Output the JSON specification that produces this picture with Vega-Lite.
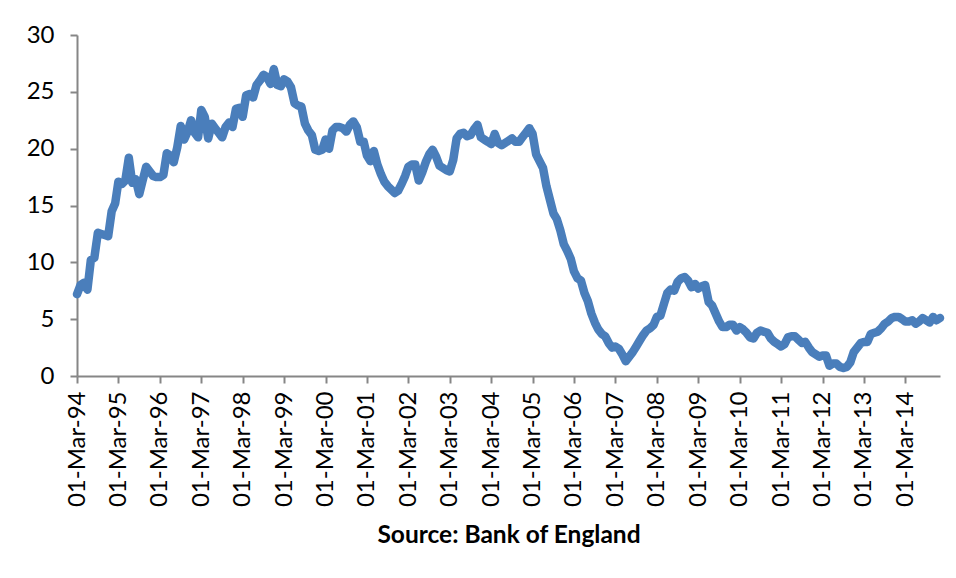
{
  "$schema": "https://vega.github.io/schema/vega-lite/v6.json",
  "width": 863,
  "height": 341,
  "autosize": {"type": "none"},
  "padding": {"left": 77, "top": 35, "right": 16, "bottom": 202},
  "background": "white",
  "config": {
    "view": {"stroke": null},
    "font": "Lato",
    "axis": {
      "labelFont": "Lato",
      "titleFont": "Lato",
      "labelColor": "#000000",
      "titleColor": "#000000",
      "domainColor": "#868686",
      "tickColor": "#868686",
      "domainWidth": 2,
      "tickWidth": 2,
      "tickSize": 7,
      "grid": false,
      "labelFontSize": 24
    }
  },
  "data": {"values": [
    {"date":"1994-03-01","v":7.2},{"date":"1994-04-01","v":8.0},{"date":"1994-05-01","v":8.2},{"date":"1994-06-01","v":7.6},{"date":"1994-07-01","v":10.2},{"date":"1994-08-01","v":10.4},{"date":"1994-09-01","v":12.6},{"date":"1994-10-01","v":12.5},{"date":"1994-11-01","v":12.4},{"date":"1994-12-01","v":12.3},{"date":"1995-01-01","v":14.5},{"date":"1995-02-01","v":15.2},
    {"date":"1995-03-01","v":17.1},{"date":"1995-04-01","v":16.9},{"date":"1995-05-01","v":17.2},{"date":"1995-06-01","v":19.2},{"date":"1995-07-01","v":17.0},{"date":"1995-08-01","v":17.3},{"date":"1995-09-01","v":16.0},{"date":"1995-10-01","v":17.2},{"date":"1995-11-01","v":18.4},{"date":"1995-12-01","v":18.0},{"date":"1996-01-01","v":17.6},{"date":"1996-02-01","v":17.5},
    {"date":"1996-03-01","v":17.5},{"date":"1996-04-01","v":17.7},{"date":"1996-05-01","v":19.6},{"date":"1996-06-01","v":19.4},{"date":"1996-07-01","v":18.8},{"date":"1996-08-01","v":20.1},{"date":"1996-09-01","v":22.0},{"date":"1996-10-01","v":20.8},{"date":"1996-11-01","v":21.5},{"date":"1996-12-01","v":22.5},{"date":"1997-01-01","v":21.4},{"date":"1997-02-01","v":21.0},
    {"date":"1997-03-01","v":23.4},{"date":"1997-04-01","v":22.8},{"date":"1997-05-01","v":20.9},{"date":"1997-06-01","v":22.2},{"date":"1997-07-01","v":21.8},{"date":"1997-08-01","v":21.4},{"date":"1997-09-01","v":21.0},{"date":"1997-10-01","v":21.9},{"date":"1997-11-01","v":22.3},{"date":"1997-12-01","v":21.9},{"date":"1998-01-01","v":23.5},{"date":"1998-02-01","v":23.6},
    {"date":"1998-03-01","v":22.8},{"date":"1998-04-01","v":24.7},{"date":"1998-05-01","v":24.8},{"date":"1998-06-01","v":24.5},{"date":"1998-07-01","v":25.6},{"date":"1998-08-01","v":26.0},{"date":"1998-09-01","v":26.5},{"date":"1998-10-01","v":26.3},{"date":"1998-11-01","v":25.7},{"date":"1998-12-01","v":27.0},{"date":"1999-01-01","v":25.6},{"date":"1999-02-01","v":25.5},
    {"date":"1999-03-01","v":26.1},{"date":"1999-04-01","v":25.9},{"date":"1999-05-01","v":25.4},{"date":"1999-06-01","v":24.0},{"date":"1999-07-01","v":23.8},{"date":"1999-08-01","v":23.7},{"date":"1999-09-01","v":22.2},{"date":"1999-10-01","v":21.6},{"date":"1999-11-01","v":21.2},{"date":"1999-12-01","v":19.9},{"date":"2000-01-01","v":19.8},{"date":"2000-02-01","v":19.9},
    {"date":"2000-03-01","v":20.8},{"date":"2000-04-01","v":20.0},{"date":"2000-05-01","v":21.6},{"date":"2000-06-01","v":21.9},{"date":"2000-07-01","v":21.9},{"date":"2000-08-01","v":21.8},{"date":"2000-09-01","v":21.5},{"date":"2000-10-01","v":22.1},{"date":"2000-11-01","v":22.4},{"date":"2000-12-01","v":21.9},{"date":"2001-01-01","v":20.6},{"date":"2001-02-01","v":20.6},
    {"date":"2001-03-01","v":19.4},{"date":"2001-04-01","v":18.9},{"date":"2001-05-01","v":19.8},{"date":"2001-06-01","v":18.6},{"date":"2001-07-01","v":17.8},{"date":"2001-08-01","v":17.1},{"date":"2001-09-01","v":16.7},{"date":"2001-10-01","v":16.4},{"date":"2001-11-01","v":16.1},{"date":"2001-12-01","v":16.3},{"date":"2002-01-01","v":16.9},{"date":"2002-02-01","v":17.6},
    {"date":"2002-03-01","v":18.4},{"date":"2002-04-01","v":18.6},{"date":"2002-05-01","v":18.6},{"date":"2002-06-01","v":17.2},{"date":"2002-07-01","v":17.9},{"date":"2002-08-01","v":18.8},{"date":"2002-09-01","v":19.5},{"date":"2002-10-01","v":19.9},{"date":"2002-11-01","v":19.3},{"date":"2002-12-01","v":18.5},{"date":"2003-01-01","v":18.3},{"date":"2003-02-01","v":18.1},
    {"date":"2003-03-01","v":18.0},{"date":"2003-04-01","v":19.0},{"date":"2003-05-01","v":20.9},{"date":"2003-06-01","v":21.3},{"date":"2003-07-01","v":21.4},{"date":"2003-08-01","v":21.1},{"date":"2003-09-01","v":21.2},{"date":"2003-10-01","v":21.7},{"date":"2003-11-01","v":22.1},{"date":"2003-12-01","v":21.0},{"date":"2004-01-01","v":20.8},{"date":"2004-02-01","v":20.6},
    {"date":"2004-03-01","v":20.4},{"date":"2004-04-01","v":21.3},{"date":"2004-05-01","v":20.5},{"date":"2004-06-01","v":20.3},{"date":"2004-07-01","v":20.5},{"date":"2004-08-01","v":20.7},{"date":"2004-09-01","v":20.9},{"date":"2004-10-01","v":20.6},{"date":"2004-11-01","v":20.6},{"date":"2004-12-01","v":21.0},{"date":"2005-01-01","v":21.4},{"date":"2005-02-01","v":21.8},
    {"date":"2005-03-01","v":21.3},{"date":"2005-04-01","v":19.5},{"date":"2005-05-01","v":18.9},{"date":"2005-06-01","v":18.3},{"date":"2005-07-01","v":16.7},{"date":"2005-08-01","v":15.5},{"date":"2005-09-01","v":14.3},{"date":"2005-10-01","v":13.8},{"date":"2005-11-01","v":12.8},{"date":"2005-12-01","v":11.6},{"date":"2006-01-01","v":11.0},{"date":"2006-02-01","v":10.3},
    {"date":"2006-03-01","v":9.2},{"date":"2006-04-01","v":8.6},{"date":"2006-05-01","v":8.4},{"date":"2006-06-01","v":7.3},{"date":"2006-07-01","v":6.6},{"date":"2006-08-01","v":5.5},{"date":"2006-09-01","v":4.7},{"date":"2006-10-01","v":4.1},{"date":"2006-11-01","v":3.7},{"date":"2006-12-01","v":3.5},{"date":"2007-01-01","v":2.9},{"date":"2007-02-01","v":2.5},
    {"date":"2007-03-01","v":2.6},{"date":"2007-04-01","v":2.4},{"date":"2007-05-01","v":1.9},{"date":"2007-06-01","v":1.3},{"date":"2007-07-01","v":1.7},{"date":"2007-08-01","v":2.1},{"date":"2007-09-01","v":2.6},{"date":"2007-10-01","v":3.1},{"date":"2007-11-01","v":3.6},{"date":"2007-12-01","v":4.0},{"date":"2008-01-01","v":4.2},{"date":"2008-02-01","v":4.5},
    {"date":"2008-03-01","v":5.2},{"date":"2008-04-01","v":5.3},{"date":"2008-05-01","v":6.3},{"date":"2008-06-01","v":7.3},{"date":"2008-07-01","v":7.6},{"date":"2008-08-01","v":7.5},{"date":"2008-09-01","v":8.3},{"date":"2008-10-01","v":8.6},{"date":"2008-11-01","v":8.7},{"date":"2008-12-01","v":8.4},{"date":"2009-01-01","v":7.8},{"date":"2009-02-01","v":8.1},
    {"date":"2009-03-01","v":7.7},{"date":"2009-04-01","v":7.9},{"date":"2009-05-01","v":8.0},{"date":"2009-06-01","v":6.5},{"date":"2009-07-01","v":6.2},{"date":"2009-08-01","v":5.5},{"date":"2009-09-01","v":4.8},{"date":"2009-10-01","v":4.3},{"date":"2009-11-01","v":4.3},{"date":"2009-12-01","v":4.5},{"date":"2010-01-01","v":4.5},{"date":"2010-02-01","v":4.0},
    {"date":"2010-03-01","v":4.3},{"date":"2010-04-01","v":4.1},{"date":"2010-05-01","v":3.8},{"date":"2010-06-01","v":3.4},{"date":"2010-07-01","v":3.3},{"date":"2010-08-01","v":3.8},{"date":"2010-09-01","v":4.0},{"date":"2010-10-01","v":3.9},{"date":"2010-11-01","v":3.8},{"date":"2010-12-01","v":3.3},{"date":"2011-01-01","v":3.0},{"date":"2011-02-01","v":2.8},
    {"date":"2011-03-01","v":2.6},{"date":"2011-04-01","v":2.8},{"date":"2011-05-01","v":3.4},{"date":"2011-06-01","v":3.5},{"date":"2011-07-01","v":3.5},{"date":"2011-08-01","v":3.2},{"date":"2011-09-01","v":2.9},{"date":"2011-10-01","v":3.0},{"date":"2011-11-01","v":2.5},{"date":"2011-12-01","v":2.1},{"date":"2012-01-01","v":1.9},{"date":"2012-02-01","v":1.7},
    {"date":"2012-03-01","v":1.8},{"date":"2012-04-01","v":1.8},{"date":"2012-05-01","v":0.9},{"date":"2012-06-01","v":1.1},{"date":"2012-07-01","v":1.1},{"date":"2012-08-01","v":0.8},{"date":"2012-09-01","v":0.7},{"date":"2012-10-01","v":0.8},{"date":"2012-11-01","v":1.2},{"date":"2012-12-01","v":2.1},{"date":"2013-01-01","v":2.5},{"date":"2013-02-01","v":2.9},
    {"date":"2013-03-01","v":3.0},{"date":"2013-04-01","v":3.0},{"date":"2013-05-01","v":3.7},{"date":"2013-06-01","v":3.8},{"date":"2013-07-01","v":3.9},{"date":"2013-08-01","v":4.2},{"date":"2013-09-01","v":4.6},{"date":"2013-10-01","v":4.8},{"date":"2013-11-01","v":5.1},{"date":"2013-12-01","v":5.2},{"date":"2014-01-01","v":5.2},{"date":"2014-02-01","v":5.0},
    {"date":"2014-03-01","v":4.8},{"date":"2014-04-01","v":4.8},{"date":"2014-05-01","v":4.9},{"date":"2014-06-01","v":4.6},{"date":"2014-07-01","v":4.8},{"date":"2014-08-01","v":5.1},{"date":"2014-09-01","v":4.9},{"date":"2014-10-01","v":4.7},{"date":"2014-11-01","v":5.2},{"date":"2014-12-01","v":4.9},{"date":"2015-01-01","v":5.1}
  ]},
  "mark": {"type": "line", "color": "#4A7EBB", "strokeWidth": 8.5, "strokeCap": "round", "strokeJoin": "round"},
  "encoding": {
    "x": {
      "field": "date",
      "type": "temporal",
      "scale": {"type": "utc", "domain": [{"year": 1994, "month": 3, "date": 1, "utc": true}, {"year": 2015, "month": 1, "date": 1, "utc": true}]},
      "axis": {
        "values": [
          {"year":1994,"month":3,"date":1,"utc":true},{"year":1995,"month":3,"date":1,"utc":true},{"year":1996,"month":3,"date":1,"utc":true},{"year":1997,"month":3,"date":1,"utc":true},{"year":1998,"month":3,"date":1,"utc":true},{"year":1999,"month":3,"date":1,"utc":true},{"year":2000,"month":3,"date":1,"utc":true},{"year":2001,"month":3,"date":1,"utc":true},{"year":2002,"month":3,"date":1,"utc":true},{"year":2003,"month":3,"date":1,"utc":true},{"year":2004,"month":3,"date":1,"utc":true},{"year":2005,"month":3,"date":1,"utc":true},{"year":2006,"month":3,"date":1,"utc":true},{"year":2007,"month":3,"date":1,"utc":true},{"year":2008,"month":3,"date":1,"utc":true},{"year":2009,"month":3,"date":1,"utc":true},{"year":2010,"month":3,"date":1,"utc":true},{"year":2011,"month":3,"date":1,"utc":true},{"year":2012,"month":3,"date":1,"utc":true},{"year":2013,"month":3,"date":1,"utc":true},{"year":2014,"month":3,"date":1,"utc":true}
        ],
        "labelExpr": "utcFormat(datum.value, '%d-%b-%y')",
        "labelAngle": 270,
        "labelAlign": "right",
        "labelBaseline": "middle",
        "labelPadding": 8,
        "labelOverlap": false,
        "labelFlush": false,
        "title": "Source: Bank of England",
        "titleFontSize": 24.5,
        "titleFontWeight": "bold",
        "titlePadding": 17
      }
    },
    "y": {
      "field": "v",
      "type": "quantitative",
      "scale": {"domain": [0, 30], "nice": false, "zero": true},
      "axis": {
        "values": [0, 5, 10, 15, 20, 25, 30],
        "labelPadding": 16,
        "title": null
      }
    }
  }
}
